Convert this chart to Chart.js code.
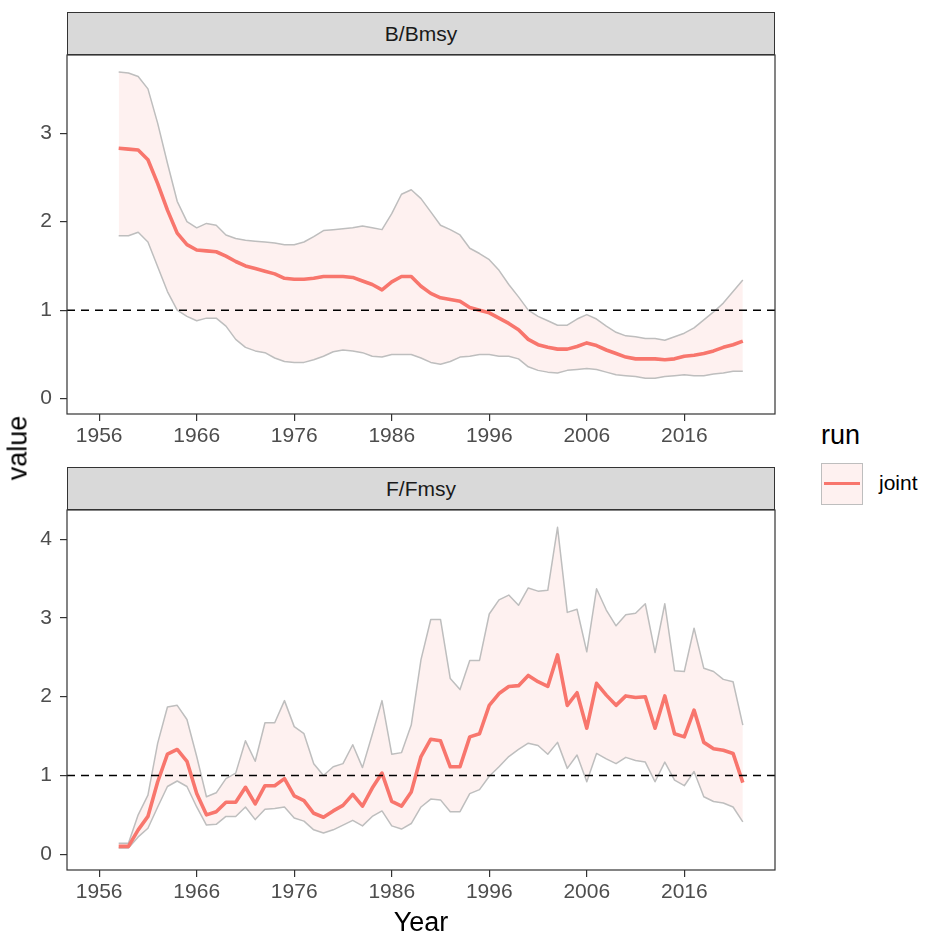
<!DOCTYPE html>
<html>
<head>
<meta charset="utf-8">
<title>B/Bmsy and F/Fmsy</title>
<script src="https://cdn.jsdelivr.net/npm/chart.js@4.4.0/dist/chart.umd.min.js"></script>
<style>
  body { margin: 0; background: #fff; font-family: "Liberation Sans", Arial, sans-serif; }
  #wrap { position: relative; width: 928px; height: 941px; overflow: hidden; }
  #wrap canvas { position: absolute; left: 0; }
  .strip {
    position: absolute; left: 67px; width: 708px; height: 43px;
    background: #d9d9d9; border: 1.2px solid #333; box-sizing: border-box;
    text-align: center; line-height: 41px; font-size: 21px; color: #1a1a1a;
  }
  .txt { position: absolute; white-space: nowrap; line-height: 1; color: #000; }
  #key {
    position: absolute; left: 821px; top: 463px; width: 42px; height: 42px;
    background: #fef1f0; border: 1.5px solid #bebebe; box-sizing: border-box;
  }
  #key div { position: absolute; left: 2px; right: 2px; top: 17.5px; height: 3.5px; background: #F8766D; }
</style>
</head>
<body>
<div id="wrap">
  <canvas id="bChart" width="800" height="460" style="top:0"></canvas>
  <canvas id="fChart" width="800" height="481" style="top:460px"></canvas>

  <div class="strip" style="top:12px">B/Bmsy</div>
  <div class="strip" style="top:467px">F/Fmsy</div>

  <div class="txt" style="left:18px; top:448px; font-size:27px; transform: translate(-50%, -50%) rotate(-90deg);">value</div>
  <div class="txt" style="left:421px; top:909px; font-size:27px; transform: translateX(-50%);">Year</div>

  <div class="txt" style="left:821px; top:422px; font-size:27px;">run</div>
  <div id="key"><div></div></div>
  <div class="txt" style="left:879px; top:472px; font-size:21px;">joint</div>
</div>

<script>
// assessment years
const years = [1958, 1959, 1960, 1961, 1962, 1963, 1964, 1965, 1966, 1967,
  1968, 1969, 1970, 1971, 1972, 1973, 1974, 1975, 1976, 1977,
  1978, 1979, 1980, 1981, 1982, 1983, 1984, 1985, 1986, 1987,
  1988, 1989, 1990, 1991, 1992, 1993, 1994, 1995, 1996, 1997,
  1998, 1999, 2000, 2001, 2002, 2003, 2004, 2005, 2006, 2007,
  2008, 2009, 2010, 2011, 2012, 2013, 2014, 2015, 2016, 2017,
  2018, 2019, 2020, 2021, 2022];

// B/Bmsy: median and interval bounds
const bMid = [2.83, 2.82, 2.81, 2.70, 2.43, 2.13, 1.87, 1.74, 1.68, 1.67,
  1.66, 1.61, 1.55, 1.50, 1.47, 1.44, 1.41, 1.36, 1.35, 1.35,
  1.36, 1.38, 1.38, 1.38, 1.37, 1.33, 1.29, 1.23, 1.32, 1.38,
  1.38, 1.27, 1.19, 1.14, 1.12, 1.10, 1.03, 1.00, 0.97, 0.91,
  0.85, 0.78, 0.67, 0.61, 0.58, 0.56, 0.56, 0.59, 0.63, 0.60,
  0.55, 0.51, 0.47, 0.45, 0.45, 0.45, 0.44, 0.45, 0.48, 0.49,
  0.51, 0.54, 0.58, 0.61, 0.65];
const bUpper = [3.69, 3.68, 3.64, 3.50, 3.11, 2.66, 2.23, 2.00, 1.93, 1.98,
  1.96, 1.85, 1.81, 1.79, 1.78, 1.77, 1.76, 1.74, 1.74, 1.77,
  1.83, 1.90, 1.91, 1.92, 1.93, 1.95, 1.93, 1.91, 2.09, 2.31,
  2.36, 2.26, 2.11, 1.96, 1.91, 1.85, 1.70, 1.64, 1.57, 1.45,
  1.29, 1.15, 1.00, 0.93, 0.88, 0.83, 0.83, 0.90, 0.95, 0.90,
  0.82, 0.75, 0.71, 0.70, 0.68, 0.68, 0.66, 0.70, 0.74, 0.80,
  0.89, 0.98, 1.08, 1.21, 1.34];
const bLower = [1.84, 1.84, 1.88, 1.77, 1.49, 1.21, 1.00, 0.93, 0.88, 0.91,
  0.91, 0.82, 0.67, 0.58, 0.54, 0.52, 0.46, 0.42, 0.41, 0.41,
  0.44, 0.48, 0.53, 0.55, 0.54, 0.52, 0.48, 0.47, 0.50, 0.50,
  0.50, 0.46, 0.41, 0.39, 0.42, 0.47, 0.48, 0.50, 0.50, 0.48,
  0.48, 0.45, 0.36, 0.32, 0.30, 0.29, 0.32, 0.33, 0.34, 0.33,
  0.30, 0.27, 0.26, 0.25, 0.23, 0.23, 0.25, 0.26, 0.27, 0.26,
  0.26, 0.28, 0.29, 0.31, 0.31];

// F/Fmsy: median and interval bounds
const fMid = [0.10, 0.10, 0.31, 0.48, 0.92, 1.27, 1.33, 1.18, 0.77, 0.50,
  0.54, 0.66, 0.66, 0.85, 0.64, 0.87, 0.87, 0.96, 0.74, 0.68,
  0.52, 0.47, 0.55, 0.62, 0.76, 0.61, 0.84, 1.03, 0.67, 0.61,
  0.79, 1.24, 1.46, 1.44, 1.11, 1.11, 1.49, 1.53, 1.89, 2.04,
  2.13, 2.14, 2.27, 2.19, 2.13, 2.53, 1.89, 2.05, 1.60, 2.17,
  2.02, 1.89, 2.01, 1.99, 2.00, 1.60, 2.01, 1.53, 1.49, 1.83,
  1.42, 1.34, 1.32, 1.28, 0.91];
const fUpper = [0.14, 0.14, 0.50, 0.75, 1.41, 1.87, 1.89, 1.71, 1.24, 0.73,
  0.78, 0.96, 1.03, 1.44, 1.18, 1.67, 1.67, 1.95, 1.62, 1.53,
  1.15, 1.00, 1.11, 1.15, 1.39, 1.10, 1.52, 1.95, 1.27, 1.29,
  1.64, 2.47, 2.98, 2.98, 2.23, 2.09, 2.46, 2.46, 3.05, 3.23,
  3.29, 3.16, 3.38, 3.34, 3.35, 4.15, 3.07, 3.11, 2.57, 3.37,
  3.10, 2.90, 3.04, 3.06, 3.18, 2.56, 3.18, 2.33, 2.32, 2.87,
  2.36, 2.32, 2.22, 2.19, 1.64];
const fLower = [0.08, 0.08, 0.22, 0.33, 0.60, 0.86, 0.93, 0.86, 0.60, 0.37,
  0.38, 0.48, 0.48, 0.60, 0.44, 0.57, 0.58, 0.60, 0.46, 0.42,
  0.31, 0.27, 0.31, 0.37, 0.43, 0.36, 0.48, 0.55, 0.36, 0.32,
  0.39, 0.60, 0.70, 0.69, 0.54, 0.54, 0.77, 0.82, 0.99, 1.11,
  1.24, 1.33, 1.41, 1.38, 1.27, 1.42, 1.09, 1.26, 0.92, 1.28,
  1.21, 1.15, 1.23, 1.19, 1.17, 0.92, 1.17, 0.94, 0.87, 1.05,
  0.73, 0.67, 0.65, 0.60, 0.41];

const xTicks = [1956, 1966, 1976, 1986, 1996, 2006, 2016];
const bTicks = [0, 1, 2, 3];
const fTicks = [0, 1, 2, 3, 4];
const refLevel = 1;

const runColor = '#F8766D';
const bandFill = 'rgba(248, 118, 109, 0.1)';
const bandEdge = '#bebebe';

Chart.defaults.font.family = '"Liberation Sans", Arial, sans-serif';

// dashed reference line at refLevel
const refLine = {
  id: 'refLine',
  afterDatasetsDraw(chart) {
    const { ctx, chartArea, scales } = chart;
    const y = scales.y.getPixelForValue(refLevel);
    ctx.save();
    ctx.strokeStyle = '#000';
    ctx.lineWidth = 1.6;
    ctx.setLineDash([8, 6]);
    ctx.beginPath();
    ctx.moveTo(chartArea.left, y);
    ctx.lineTo(chartArea.right, y);
    ctx.stroke();
    ctx.restore();
  }
};

// box round the panel
const panelBorder = {
  id: 'panelBorder',
  afterDraw(chart) {
    const { ctx, chartArea: a } = chart;
    ctx.save();
    ctx.strokeStyle = '#333';
    ctx.lineWidth = 1.2;
    ctx.strokeRect(a.left, a.top, a.right - a.left, a.bottom - a.top);
    ctx.restore();
  }
};

function points(vals) {
  return years.map((yr, i) => ({ x: yr, y: vals[i] }));
}

function makePanel(id, mid, upper, lower, yMin, yMax, yTicks, padTop, xHeight) {
  return new Chart(document.getElementById(id), {
    type: 'line',
    data: {
      datasets: [
        { data: points(mid), borderColor: runColor, borderWidth: 3.6, fill: false,
          pointRadius: 0, borderJoinStyle: 'round' },
        { data: points(upper), borderColor: bandEdge, borderWidth: 1.5, fill: '+1',
          backgroundColor: bandFill, pointRadius: 0, borderJoinStyle: 'round' },
        { data: points(lower), borderColor: bandEdge, borderWidth: 1.5, fill: false,
          pointRadius: 0, borderJoinStyle: 'round' }
      ]
    },
    options: {
      responsive: false,
      animation: false,
      layout: { padding: { top: padTop, right: 25, left: 0, bottom: 0 } },
      plugins: {
        legend: { display: false },
        tooltip: { enabled: false },
        filler: { drawTime: 'beforeDatasetsDraw' }
      },
      scales: {
        x: {
          type: 'linear',
          min: 1952.7,
          max: 2025.3,
          afterBuildTicks: s => { s.ticks = xTicks.map(v => ({ value: v })); },
          afterFit: s => { s.height = xHeight; s.paddingLeft = 0; s.paddingRight = 0; },
          border: { display: false },
          grid: { drawOnChartArea: false, drawTicks: true, tickLength: 7, color: '#333', lineWidth: 1.2 },
          ticks: { autoSkip: false, maxRotation: 0, color: '#4d4d4d', font: { size: 21 }, padding: 3,
                   callback: v => String(v) }
        },
        y: {
          type: 'linear',
          min: yMin,
          max: yMax,
          afterBuildTicks: s => { s.ticks = yTicks.map(v => ({ value: v })); },
          afterFit: s => { s.width = 67; s.paddingTop = 0; s.paddingBottom = 0; },
          border: { display: false },
          grid: { drawOnChartArea: false, drawTicks: true, tickLength: 7, color: '#333', lineWidth: 1.2 },
          ticks: { color: '#4d4d4d', font: { size: 21 }, padding: 8, callback: v => String(v) }
        }
      }
    },
    plugins: [refLine, panelBorder]
  });
}

makePanel('bChart', bMid, bUpper, bLower, -0.173, 3.883, bTicks, 55, 46);
makePanel('fChart', fMid, fUpper, fLower, -0.2, 4.37, fTicks, 50, 71);
</script>
</body>
</html>
